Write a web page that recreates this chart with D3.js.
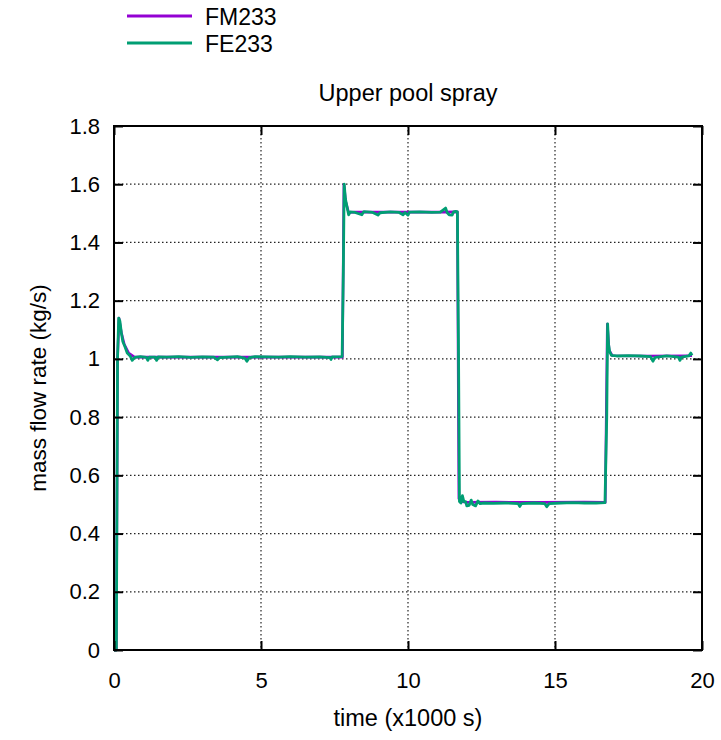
<!DOCTYPE html>
<html><head><meta charset="utf-8">
<script src="https://cdn.jsdelivr.net/npm/d3@7"></script>
<style>body{margin:0;background:#fff;} text{font-family:"Liberation Sans",Arial,sans-serif;fill:#000;}</style>
</head><body><svg id="c" width="721" height="740"></svg>
<script>
const xTicks = [0, 5, 10, 15, 20];
const yTicks = [0, 0.2, 0.4, 0.6, 0.8, 1, 1.2, 1.4, 1.6, 1.8];
const seriesNames = ["FM233", "FE233"];
const seriesColors = ["#9400d3", "#009e73"];

// FE233 (time in x1000 s, mass flow kg/s)
const feTime = [0.00,0.08,0.10,0.12,0.16,0.20,0.25,0.30,0.38,0.45,0.55,0.62,0.70,0.90,1.10,1.15,1.20,1.40,1.45,1.50,1.80,2.20,2.60,3.00,3.40,3.52,3.58,3.90,4.20,4.45,4.52,4.60,4.80,5.20,5.60,6.00,6.50,7.00,7.35,7.38,7.42,7.76,7.80,7.83,7.87,7.92,7.98,8.04,8.20,8.43,8.50,8.80,8.98,9.05,9.40,9.70,9.83,9.90,10.00,10.05,10.40,10.80,11.10,11.28,11.33,11.40,11.50,11.55,11.62,11.68,11.72,11.75,11.80,11.85,11.90,11.96,12.00,12.08,12.15,12.20,12.30,12.38,12.45,12.60,12.90,13.30,13.75,13.80,13.86,14.30,14.65,14.72,14.80,15.20,15.60,16.00,16.40,16.70,16.76,16.79,16.82,16.86,16.92,17.10,17.50,17.90,18.25,18.33,18.40,18.80,19.20,19.25,19.30,19.55,19.62,19.66];
const feValue = [0,0,0.5,1.00,1.14,1.13,1.09,1.06,1.04,1.02,1.01,0.995,1.005,1.008,1.005,0.995,1.006,1.006,0.995,1.007,1.006,1.008,1.005,1.007,1.006,0.997,1.004,1.006,1.008,1.003,0.992,1.004,1.008,1.007,1.006,1.008,1.006,1.007,1.004,0.998,1.007,1.008,1.3,1.60,1.55,1.525,1.495,1.505,1.503,1.495,1.506,1.503,1.494,1.502,1.505,1.503,1.495,1.503,1.494,1.504,1.505,1.503,1.504,1.518,1.503,1.495,1.494,1.505,1.507,1.505,1.0,0.51,0.505,0.53,0.51,0.51,0.495,0.497,0.515,0.50,0.495,0.512,0.503,0.505,0.504,0.505,0.503,0.493,0.503,0.505,0.503,0.492,0.503,0.505,0.506,0.505,0.505,0.506,0.8,1.12,1.05,1.025,1.012,1.010,1.011,1.010,1.008,0.992,1.005,1.010,1.006,0.995,1.006,1.010,1.02,1.012];

// FM233
const fmTime = [0,0.08,0.12,0.17,0.25,0.35,0.5,0.7,2,4,6,7.77,7.82,7.88,7.98,8.2,9.5,11.0,11.68,11.73,11.8,12.0,13,14.5,16.0,16.71,16.78,16.84,16.95,18,19.66];
const fmValue = [0,0,1.0,1.14,1.09,1.05,1.02,1.006,1.006,1.006,1.006,1.006,1.60,1.54,1.503,1.504,1.504,1.504,1.505,0.52,0.51,0.507,0.508,0.507,0.508,0.507,1.12,1.03,1.011,1.010,1.011];

const svg = d3.select("#c");
const L = 114, R = 702, T = 126, B = 650;
const x = d3.scaleLinear().domain([0, 20]).range([L, R]);
const y = d3.scaleLinear().domain([0, 1.8]).range([B, T]);

// grid
const g = svg.append("g");
g.selectAll(".gx").data(xTicks.filter(d => d > 0 && d < 20)).join("line")
  .attr("x1", d => x(d)).attr("x2", d => x(d)).attr("y1", T).attr("y2", B)
  .attr("stroke", "#222").attr("stroke-width", 1.2).attr("stroke-dasharray", "1.5,2.5");
g.selectAll(".gy").data(yTicks.filter(d => d > 0 && d < 1.8)).join("line")
  .attr("x1", L).attr("x2", R).attr("y1", d => y(d)).attr("y2", d => y(d))
  .attr("stroke", "#222").attr("stroke-width", 1.2).attr("stroke-dasharray", "1.5,2.5");

// series
const line = d3.line().x(d => x(d[0])).y(d => y(d[1]));
const fm = fmTime.map((t, i) => [t, fmValue[i]]);
const fe = feTime.map((t, i) => [t, feValue[i]]);
svg.append("path").datum(fm).attr("d", line).attr("fill", "none")
  .attr("stroke", seriesColors[0]).attr("stroke-width", 2.6).attr("stroke-linejoin", "round");
svg.append("path").datum(fe).attr("d", line).attr("fill", "none")
  .attr("stroke", seriesColors[1]).attr("stroke-width", 2.8).attr("stroke-linejoin", "round");

// axes (inward ticks, mirrored)
const tl = 9;
const ax = svg.append("g");
ax.append("g").attr("transform", `translate(0,${B})`)
  .call(d3.axisBottom(x).tickValues(xTicks).tickSize(-tl).tickPadding(22).tickFormat(d3.format("d")));
ax.append("g").attr("transform", `translate(0,${T})`)
  .call(d3.axisTop(x).tickValues(xTicks).tickSize(-tl).tickFormat(""));
ax.append("g").attr("transform", `translate(${L},0)`)
  .call(d3.axisLeft(y).tickValues(yTicks).tickSize(-tl).tickPadding(14).tickFormat(d => d3.format("~g")(d)));
ax.append("g").attr("transform", `translate(${R},0)`)
  .call(d3.axisRight(y).tickValues(yTicks).tickSize(-tl).tickFormat(""));
ax.selectAll(".domain").remove();
ax.selectAll(".tick line").attr("stroke", "#000").attr("stroke-width", 2);
ax.selectAll(".tick text").style("font-size", "22px").attr("fill", "#000");
svg.append("rect").attr("x", L).attr("y", T).attr("width", R - L).attr("height", B - T)
  .attr("fill", "none").attr("stroke", "#000").attr("stroke-width", 2);

// labels
svg.append("text").attr("x", (L + R) / 2).attr("y", 101).attr("text-anchor", "middle")
  .style("font-size", "23.5px").text("Upper pool spray");
svg.append("text").attr("x", (L + R) / 2).attr("y", 726).attr("text-anchor", "middle")
  .style("font-size", "23.5px").text("time (x1000 s)");
svg.append("text").attr("transform", `translate(46,${(T + B) / 2}) rotate(-90)`).attr("text-anchor", "middle")
  .style("font-size", "22.5px").text("mass flow rate (kg/s)");

// legend
const lg = svg.append("g");
seriesNames.forEach((n, i) => {
  const yy = 16 + i * 27;
  lg.append("line").attr("x1", 127).attr("x2", 192).attr("y1", yy).attr("y2", yy)
    .attr("stroke", seriesColors[i]).attr("stroke-width", 3);
  lg.append("text").attr("x", 205).attr("y", yy + 9).style("font-size", "23px").text(n);
});
</script></body></html>
